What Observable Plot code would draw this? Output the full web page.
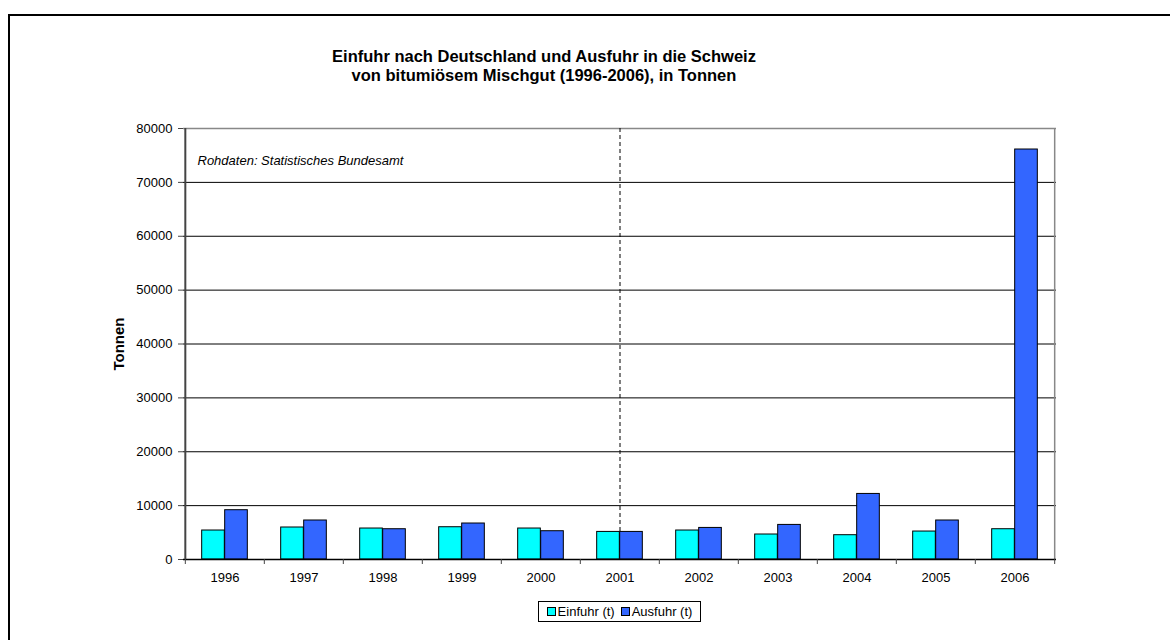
<!DOCTYPE html>
<html>
<head>
<meta charset="utf-8">
<script src="https://cdn.jsdelivr.net/npm/d3@7"></script>
<script src="https://cdn.jsdelivr.net/npm/@observablehq/plot@0.6"></script>
<style>
  html, body { margin: 0; padding: 0; background: #fff; overflow: hidden; }
  body { font-family: Arial, "Liberation Sans", sans-serif; }
  #wrap { position: relative; width: 1170px; height: 640px; overflow: hidden; }
  #frame { position: absolute; left: 8px; top: 14px; width: 1300px; height: 800px; border: 2px solid #000; box-sizing: border-box; }
  #title { position: absolute; left: 244px; width: 600px; top: 47px; text-align: center; font-weight: bold; font-size: 16.5px; line-height: 19px; color: #000; }
  #chart { position: absolute; left: 0; top: 0; }
  #legend { position: absolute; left: 538px; top: 601px; width: 161px; height: 19px; border: 1px solid #000; display: flex; align-items: center; justify-content: center; font-size: 13px; background: #fff; box-sizing: content-box; }
  #legend .item { display: flex; align-items: center; margin-right: 6px; }
  #legend .item:last-child { margin-right: 0; }
  #legend .sw { width: 7px; height: 7px; border: 1px solid #000; margin-right: 2px; }
</style>
</head>
<body>
<div id="wrap">
  <div id="frame"></div>
  <div id="chart"></div>
  <div id="title">Einfuhr nach Deutschland und Ausfuhr in die Schweiz<br>von bitumiösem Mischgut (1996-2006), in Tonnen</div>
  <div id="legend"></div>
</div>
<script>
// ---- data ----
const years = ["1996","1997","1998","1999","2000","2001","2002","2003","2004","2005","2006"];
const einfuhr = [5380, 5940, 5750, 5990, 5750, 5120, 5380, 4640, 4510, 5190, 5620];
const ausfuhr = [9150, 7240, 5620, 6680, 5250, 5120, 5860, 6420, 12170, 7240, 76100];
const seriesNames = ["Einfuhr (t)", "Ausfuhr (t)"];
const seriesColors = ["#00FFFF", "#3366FF"];
const yTicks = [0, 10000, 20000, 30000, 40000, 50000, 60000, 70000, 80000];
const markerYear = "2001";
const yLabel = "Tonnen";
const sourceNote = "Rohdaten: Statistisches Bundesamt";

const table = [];
years.forEach((yr, i) => {
  table.push({year: yr, series: seriesNames[0], value: einfuhr[i]});
  table.push({year: yr, series: seriesNames[1], value: ausfuhr[i]});
});

const W = 1170, H = 640;
const mL = 183, mR = 114, mT = 128, mB = 81;
const bw = (W - mL - mR) / years.length;
const barW = 23;
const outer = (bw - 2 * barW) / 2;

const chart = Plot.plot({
  width: W, height: H,
  marginLeft: mL, marginRight: mR, marginTop: mT, marginBottom: mB,
  style: {fontFamily: "Arial, 'Liberation Sans', sans-serif", fontSize: "13px", color: "#000", background: "transparent"},
  x: {domain: years, padding: 0, axis: null},
  y: {domain: [0, 80000], axis: null},
  marks: [
    Plot.ruleY(yTicks.filter(t => t > 0 && t < 80000), {stroke: "#000", strokeWidth: 1}),
    Plot.ruleY([80000], {stroke: "#888", strokeWidth: 1.5}),
    Plot.ruleX([years[years.length - 1]], {dx: bw / 2, stroke: "#888", strokeWidth: 1.5}),
    Plot.ruleX([markerYear], {stroke: "#000", strokeDasharray: "4,3", strokeWidth: 1}),
    Plot.barY(table, {filter: d => d.series === seriesNames[0], x: "year", y: "value", fill: seriesColors[0], stroke: "#000", strokeWidth: 1, insetLeft: outer, insetRight: outer + barW}),
    Plot.barY(table, {filter: d => d.series === seriesNames[1], x: "year", y: "value", fill: seriesColors[1], stroke: "#000", strokeWidth: 1, insetLeft: outer + barW, insetRight: outer}),
    Plot.ruleY([0], {stroke: "#000", strokeWidth: 1.5}),
    Plot.ruleX([years[0]], {dx: -bw / 2, stroke: "#444", strokeWidth: 2}),
    Plot.axisY({ticks: yTicks, tickFormat: d => String(d), tickSize: 5, tickPadding: 6, label: null, stroke: "#444", fontSize: 13}),
    Plot.axisX({tickSize: 0, tickPadding: 13, label: null, fontSize: 13}),
    Plot.axisX({tickSize: 5, tickFormat: () => "", dx: -bw / 2, label: null, stroke: "#444"}),
    Plot.axisX([years[years.length - 1]], {tickSize: 5, tickFormat: () => "", dx: bw / 2, label: null, stroke: "#444"}),
    Plot.text([yLabel], {frameAnchor: "left", dx: -64, rotate: -90, textAnchor: "middle", fontWeight: "bold", fontSize: 15, text: d => d}),
    Plot.text([sourceNote], {frameAnchor: "top-left", dx: 14, dy: 27, fontStyle: "italic", fontSize: 13, textAnchor: "start", text: d => d})
  ]
});
document.getElementById("chart").appendChild(chart);

const legend = document.getElementById("legend");
seriesNames.forEach((n, i) => {
  const it = document.createElement("div");
  it.className = "item";
  const sw = document.createElement("div");
  sw.className = "sw";
  sw.style.background = seriesColors[i];
  const tx = document.createElement("span");
  tx.textContent = n;
  it.appendChild(sw); it.appendChild(tx);
  legend.appendChild(it);
});
</script>
</body>
</html>
